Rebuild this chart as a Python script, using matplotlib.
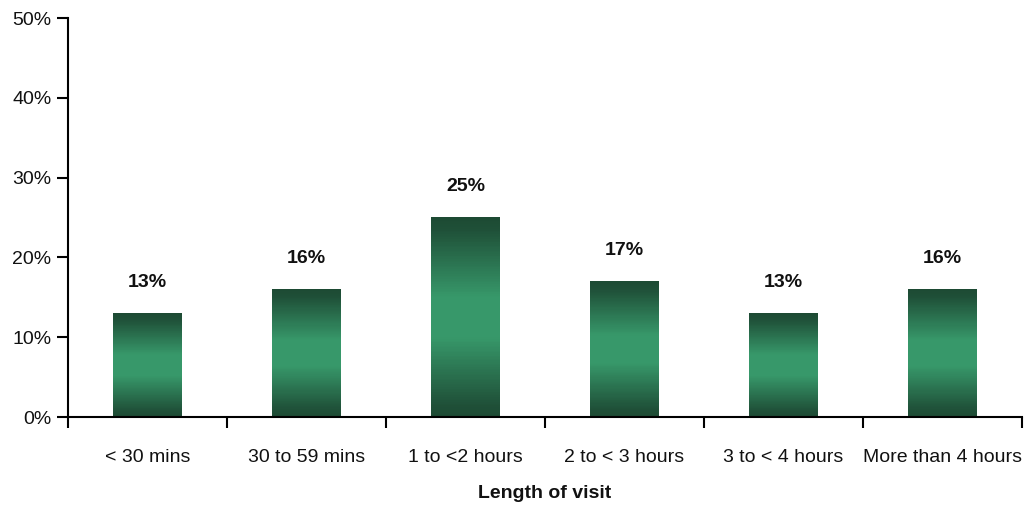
import matplotlib.pyplot as plt
import numpy as np
from matplotlib.colors import LinearSegmentedColormap

# --------------------------------------------------------
# Data
# --------------------------------------------------------

categories = [
    "< 30 mins",
    "30 to 59 mins",
    "1 to <2 hours",
    "2 to < 3 hours",
    "3 to < 4 hours",
    "More than 4 hours",
]

values = [13, 16, 25, 17, 13, 16]

y_ticks = [0, 10, 20, 30, 40, 50]


plt.rcParams["font.family"] = ["Liberation Sans Narrow", "Liberation Sans", "DejaVu Sans"]

# dark at both ends, lighter green band in the middle
bar_cmap = LinearSegmentedColormap.from_list(
    "bar",
    [
        (0.00, "#1d4a33"),
        (0.06, "#1f5038"),
        (0.40, "#37986a"),
        (0.60, "#37986a"),
        (0.94, "#1f5038"),
        (1.00, "#1d4a33"),
    ],
)

fig = plt.figure(figsize=(10.29, 5.13), dpi=100)
ax = fig.add_axes([0.0661, 0.1871, 0.9271, 0.7778])

x = np.arange(len(categories))
width = 0.43
n_slices = 120

for xi, v in zip(x, values):

    # stack thin slices to get a vertical gradient
    step = v / n_slices
    t = (np.arange(n_slices) + 0.5) / n_slices

    ax.bar(
        np.full(n_slices, xi),
        step * 1.02,
        bottom=np.arange(n_slices) * step,
        width=width,
        color=bar_cmap(t),
        linewidth=0,
        antialiased=False,
        zorder=2,
    )

    ax.annotate(
        f"{v}%",
        (xi, v),
        xytext=(0, 22),
        textcoords="offset points",
        ha="center",
        va="center",
        fontsize=14,
        fontweight="bold",
        color="#111111",
    )

ax.set_xlim(-0.5, len(categories) - 0.5)
ax.set_ylim(0, 50)

ax.set_yticks(y_ticks)
ax.set_yticklabels([f"{t}%" for t in y_ticks], fontsize=14, color="#111111")

# category boundary ticks, labels in between
ax.set_xticks(np.arange(len(categories) + 1) - 0.5)
ax.set_xticklabels([])
ax.set_xticks(x, minor=True)
ax.set_xticklabels(categories, minor=True, fontsize=14, color="#111111")
ax.tick_params(axis="x", which="minor", length=0, pad=23)
ax.tick_params(axis="x", which="major", length=8, width=1.5, direction="out")
ax.tick_params(axis="y", length=8, width=1.5, direction="out", pad=4)

ax.set_xlabel("Length of visit", fontsize=14, fontweight="bold", labelpad=14, color="#111111")

for side in ["top", "right"]:
    ax.spines[side].set_visible(False)

for side in ["left", "bottom"]:
    ax.spines[side].set_linewidth(1.5)
    ax.spines[side].set_zorder(3)

fig.savefig("out.png", dpi=100)
